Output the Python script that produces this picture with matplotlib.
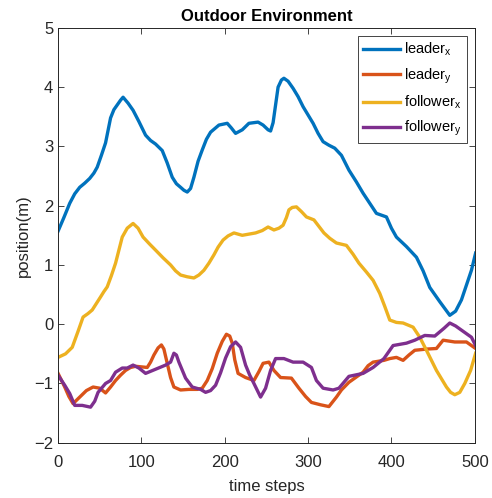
import matplotlib
matplotlib.use('Agg')
import matplotlib.pyplot as plt

plt.rcParams['font.family'] = ['Liberation Sans', 'DejaVu Sans']
plt.rcParams['mathtext.default'] = 'regular'
plt.rcParams['mathtext.fontset'] = 'custom'
plt.rcParams['mathtext.rm'] = 'Liberation Sans'

# leader x
lx_t = [0, 7, 14, 20, 26, 32, 38, 43, 47, 52, 57, 63, 67, 71, 75, 78, 84, 90, 97, 105,
        111, 117, 125, 131, 137, 142, 147, 151, 155, 159, 163, 168, 173, 178, 183, 193,
        203, 208, 213, 221, 229, 240, 246, 252, 255, 258, 261, 264, 268, 271, 276, 282,
        288, 294, 306, 312, 318, 325, 332, 340, 349, 358, 366, 374, 382, 394, 400, 406,
        418, 430, 438, 446, 458, 470, 477, 484, 490, 496, 501]
lx_v = [1.57, 1.80, 2.04, 2.20, 2.31, 2.38, 2.46, 2.55, 2.65, 2.85, 3.06, 3.48, 3.62, 3.70,
        3.78, 3.83, 3.73, 3.61, 3.42, 3.19, 3.10, 3.04, 2.93, 2.72, 2.48, 2.37, 2.31, 2.26,
        2.23, 2.29, 2.48, 2.75, 2.94, 3.12, 3.24, 3.36, 3.39, 3.31, 3.22, 3.28, 3.39, 3.41,
        3.36, 3.28, 3.26, 3.40, 3.70, 4.00, 4.12, 4.15, 4.10, 3.98, 3.84, 3.67, 3.39, 3.22,
        3.08, 3.02, 2.97, 2.85, 2.60, 2.40, 2.21, 2.04, 1.87, 1.81, 1.62, 1.47, 1.31, 1.13,
        0.90, 0.62, 0.38, 0.15, 0.22, 0.41, 0.66, 0.91, 1.20]

# leader y
ly_t = [0, 8, 13, 18, 26, 34, 42, 50, 57, 63, 69, 75, 81, 87, 93, 100, 107, 111, 115, 120,
        124, 127, 131, 135, 139, 147, 157, 167, 173, 179, 185, 191, 197, 202, 206, 209, 212,
        216, 225, 235, 241, 246, 253, 259, 267, 280, 289, 297, 304, 315, 325, 334, 340, 349,
        357, 366, 372, 378, 391, 398, 406, 414, 421, 428, 442, 454, 462, 476, 490, 501]
ly_v = [-0.83, -1.06, -1.22, -1.34, -1.23, -1.12, -1.06, -1.08, -1.16, -1.06, -0.95, -0.86,
        -0.78, -0.73, -0.71, -0.72, -0.73, -0.64, -0.52, -0.40, -0.35, -0.42, -0.66, -0.90,
        -1.06, -1.11, -1.10, -1.10, -1.08, -0.95, -0.75, -0.49, -0.29, -0.17, -0.20, -0.32,
        -0.60, -0.83, -0.90, -0.95, -0.80, -0.66, -0.64, -0.78, -0.90, -0.91, -1.08, -1.22,
        -1.32, -1.36, -1.39, -1.23, -1.11, -0.98, -0.90, -0.81, -0.70, -0.64, -0.61, -0.58,
        -0.56, -0.61, -0.52, -0.44, -0.42, -0.41, -0.27, -0.30, -0.30, -0.41]

# follower x
fx_t = [0, 9, 17, 24, 30, 36, 41, 46, 51, 55, 59, 64, 69, 73, 77, 83, 90, 96, 102, 110, 117,
        126, 135, 141, 147, 155, 163, 169, 175, 181, 187, 192, 198, 204, 211, 221, 229, 237,
        245, 252, 259, 265, 270, 274, 277, 281, 286, 292, 298, 307, 313, 319, 326, 334, 346,
        354, 361, 370, 378, 386, 392, 398, 406, 414, 426, 434, 442, 454, 466, 471, 476, 482,
        488, 495, 501]
fx_v = [-0.56, -0.50, -0.39, -0.12, 0.12, 0.18, 0.24, 0.35, 0.46, 0.55, 0.63, 0.82, 1.03,
        1.25, 1.47, 1.62, 1.70, 1.62, 1.47, 1.35, 1.25, 1.12, 1.00, 0.90, 0.83, 0.80, 0.78,
        0.83, 0.91, 1.03, 1.17, 1.30, 1.42, 1.49, 1.54, 1.50, 1.52, 1.54, 1.58, 1.64, 1.59,
        1.62, 1.67, 1.80, 1.93, 1.97, 1.98, 1.90, 1.81, 1.76, 1.65, 1.54, 1.45, 1.37, 1.33,
        1.18, 1.03, 0.88, 0.74, 0.52, 0.30, 0.07, 0.03, 0.02, -0.05, -0.22, -0.44, -0.78,
        -1.06, -1.15, -1.19, -1.15, -1.00, -0.78, -0.49]

# follower y
fy_t = [0, 8, 14, 20, 29, 39, 44, 48, 57, 63, 69, 77, 83, 90, 97, 105, 117, 129, 135, 139,
        142, 145, 153, 161, 171, 177, 183, 189, 195, 201, 207, 213, 219, 225, 230, 235, 243,
        249, 255, 261, 271, 282, 294, 304, 310, 318, 330, 337, 343, 349, 366, 378, 391, 402,
        418, 428, 440, 452, 463, 470, 477, 484, 496, 501]
fy_v = [-0.86, -1.03, -1.17, -1.37, -1.37, -1.40, -1.30, -1.15, -1.00, -0.95, -0.81, -0.74,
        -0.74, -0.69, -0.74, -0.83, -0.76, -0.69, -0.64, -0.49, -0.52, -0.64, -0.91, -1.06,
        -1.10, -1.15, -1.12, -1.03, -0.82, -0.57, -0.38, -0.30, -0.39, -0.69, -0.86, -1.00,
        -1.23, -1.08, -0.78, -0.58, -0.58, -0.64, -0.64, -0.73, -0.95, -1.08, -1.11, -1.08,
        -0.98, -0.88, -0.83, -0.73, -0.58, -0.36, -0.32, -0.27, -0.19, -0.20, -0.07, 0.02,
        -0.03, -0.10, -0.22, -0.36]

labels = ['leader$_x$', 'leader$_y$', 'follower$_x$', 'follower$_y$']
colors = ['#0072BD', '#D95319', '#EDB120', '#7E2F8E']

fig = plt.figure(figsize=(4.92, 4.98), dpi=100)
ax = fig.add_axes([0.118, 0.111, 0.847, 0.833])

series = [(lx_t, lx_v), (ly_t, ly_v), (fx_t, fx_v), (fy_t, fy_v)]
for (t, v), c, lab in zip(series, colors, labels):
    ax.plot(t, v, color=c, linewidth=2.4, label=lab, solid_joinstyle='round')

ax.set_xlim(0, 500)
ax.set_ylim(-2, 5)
ax.set_xticks(range(0, 501, 100))
ax.set_yticks(range(-2, 6))
ax.tick_params(direction='in', top=True, right=True, labelsize=12,
               colors='#262626', length=4, width=0.6)
ax.tick_params(axis='x', pad=9)
for s in ax.spines.values():
    s.set_color('#262626')
    s.set_linewidth(0.7)

ax.set_xlabel('time steps', fontsize=12, color='#262626', labelpad=6)
ax.set_ylabel('position(m)', fontsize=12, color='#262626', labelpad=2)
ax.set_title('Outdoor Environment', fontsize=12, fontweight='bold', pad=5)

leg = ax.legend(loc='upper right', bbox_to_anchor=(0.981, 0.981), fontsize=10.5,
                fancybox=False, edgecolor='#262626', framealpha=1,
                handlelength=2.5, borderpad=0.35, labelspacing=0.55, handletextpad=0.3,
                borderaxespad=0)
leg.get_frame().set_linewidth(0.6)

plt.savefig('out.png', dpi=100)
